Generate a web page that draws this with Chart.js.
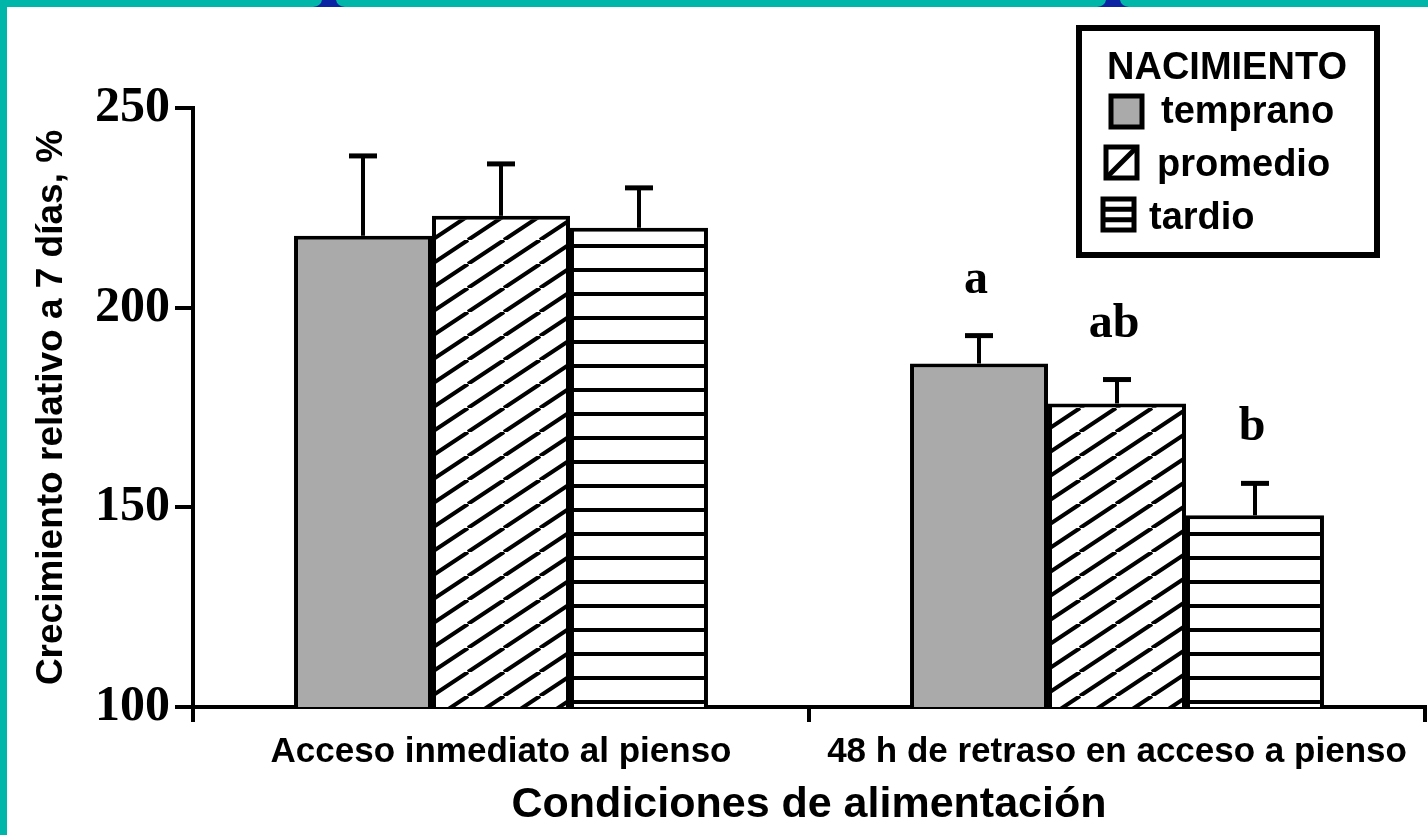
<!DOCTYPE html>
<html>
<head>
<meta charset="utf-8">
<script src="https://cdn.jsdelivr.net/npm/chart.js@4.4.1/dist/chart.umd.min.js"></script>
<style>
html, body { margin: 0; padding: 0; background: #fff; }
canvas { display: block; }
</style>
</head>
<body>
<canvas id="grafico" width="1428" height="835"></canvas>
<script>
// Datos
const condiciones = ['Acceso inmediato al pienso', '48 h de retraso en acceso a pienso'];
const nacimiento = ['temprano', 'promedio', 'tardio'];
const temprano = [218, 186];
const promedio = [223, 176];
const tardio = [220, 148];
const errTemprano = [20, 7];
const errPromedio = [13, 6];
const errTardio = [10, 8];
const letrasTemprano = ['', 'a'];
const letrasPromedio = ['', 'ab'];
const letrasTardio = ['', 'b'];
const ticksY = [100, 150, 200, 250];

const SANS = '"Liberation Sans", Arial, sans-serif';
const SERIF = '"Liberation Serif", "Times New Roman", serif';

// Tramas
function rayado() {
    const c = document.createElement('canvas');
    c.width = 36; c.height = 24;
    const g = c.getContext('2d');
    g.fillStyle = '#fff';
    g.fillRect(0, 0, 36, 24);
    g.strokeStyle = '#000';
    g.lineWidth = 4;
    g.beginPath();
    for (const k of [-1, 0, 1]) {
        g.moveTo(k * 36, 24);
        g.lineTo(k * 36 + 36, 0);
    }
    g.stroke();
    return g.createPattern(c, 'repeat');
}

function franjas() {
    const c = document.createElement('canvas');
    c.width = 8; c.height = 24;
    const g = c.getContext('2d');
    g.fillStyle = '#fff';
    g.fillRect(0, 0, 8, 24);
    g.fillStyle = '#000';
    g.fillRect(0, 4, 8, 4);
    return g.createPattern(c, 'repeat');
}

// Marco verde de la diapositiva
const marco = {
    id: 'marco',
    beforeDraw(chart) {
        const g = chart.ctx;
        g.save();
        g.fillStyle = '#fff';
        g.fillRect(0, 0, chart.width, chart.height);
        g.fillStyle = '#00b6a8';
        g.fillRect(0, 0, chart.width, 7);
        g.fillRect(0, 0, 7, chart.height);
        g.fillStyle = '#0b24a3';
        for (const x0 of [313, 1097]) {
            g.beginPath();
            g.moveTo(x0, 7);
            g.quadraticCurveTo(x0 + 8, 6, x0 + 9, 0);
            g.lineTo(x0 + 23, 0);
            g.quadraticCurveTo(x0 + 24, 6, x0 + 32, 7);
            g.closePath();
            g.fill();
        }
        g.restore();
    }
};

// Barras de error y letras
const barrasError = {
    id: 'barrasError',
    afterDatasetsDraw(chart) {
        const g = chart.ctx;
        const y = chart.scales.y;
        g.save();
        g.strokeStyle = '#000';
        g.fillStyle = '#000';
        chart.data.datasets.forEach((ds, i) => {
            chart.getDatasetMeta(i).data.forEach((bar, j) => {
                const yTop = y.getPixelForValue(ds.data[j] + ds.err[j]);
                g.lineWidth = 4;
                g.beginPath();
                g.moveTo(bar.x, bar.y);
                g.lineTo(bar.x, yTop);
                g.stroke();
                g.lineWidth = 5;
                g.beginPath();
                g.moveTo(bar.x - 14, yTop);
                g.lineTo(bar.x + 14, yTop);
                g.stroke();
                if (ds.letras[j]) {
                    g.font = 'bold 48px ' + SERIF;
                    g.textAlign = 'center';
                    g.textBaseline = 'alphabetic';
                    g.fillText(ds.letras[j], bar.x - 3, yTop - 43);
                }
            });
        });
        g.restore();
    }
};

// Leyenda con recuadro
const leyenda = {
    id: 'leyenda',
    afterDraw(chart) {
        const g = chart.ctx;
        g.save();
        g.strokeStyle = '#000';
        g.lineWidth = 6;
        g.strokeRect(1079, 28, 298, 227);
        g.fillStyle = '#000';
        g.font = 'bold 38px ' + SANS;
        g.textAlign = 'left';
        g.textBaseline = 'alphabetic';
        g.fillText('NACIMIENTO', 1107, 79);
        const filas = [
            { sx: 1111, sy: 96, tx: 1161, ty: 123 },
            { sx: 1106, sy: 147, tx: 1157, ty: 176 },
            { sx: 1103, sy: 199, tx: 1149, ty: 229 }
        ];
        chart.data.datasets.forEach((ds, i) => {
            const f = filas[i];
            const s = 31;
            g.lineWidth = 5;
            if (ds.muestra === 'solido') {
                g.fillStyle = ds.backgroundColor;
                g.fillRect(f.sx, f.sy, s, s);
            } else if (ds.muestra === 'diagonal') {
                g.beginPath();
                g.moveTo(f.sx, f.sy + s);
                g.lineTo(f.sx + s, f.sy);
                g.stroke();
            } else {
                g.beginPath();
                g.moveTo(f.sx, f.sy + s / 3);
                g.lineTo(f.sx + s, f.sy + s / 3);
                g.moveTo(f.sx, f.sy + 2 * s / 3);
                g.lineTo(f.sx + s, f.sy + 2 * s / 3);
                g.stroke();
            }
            g.strokeRect(f.sx, f.sy, s, s);
            g.fillStyle = '#000';
            g.font = 'bold 38px ' + SANS;
            g.fillText(ds.label, f.tx, f.ty);
        });
        g.restore();
    }
};

const ctx = document.getElementById('grafico').getContext('2d');
const grafico = new Chart(ctx, {
    type: 'bar',
    data: {
        labels: condiciones,
        datasets: [
            { label: nacimiento[0], data: temprano, err: errTemprano, letras: letrasTemprano,
              backgroundColor: '#aaaaaa', muestra: 'solido' },
            { label: nacimiento[1], data: promedio, err: errPromedio, letras: letrasPromedio,
              backgroundColor: rayado(), muestra: 'diagonal' },
            { label: nacimiento[2], data: tardio, err: errTardio, letras: letrasTardio,
              backgroundColor: franjas(), muestra: 'horizontal' }
        ]
    },
    options: {
        responsive: false,
        animation: false,
        layout: { padding: { left: 8, right: 3, top: 108, bottom: 0 } },
        datasets: {
            bar: { categoryPercentage: 0.672, barPercentage: 1, borderColor: '#000', borderWidth: 4 }
        },
        plugins: {
            legend: { display: false },
            tooltip: { enabled: false }
        },
        scales: {
            x: {
                grid: { offset: true, drawOnChartArea: false, tickLength: 15, lineWidth: 4, color: '#000' },
                border: { color: '#000', width: 4 },
                ticks: {
                    color: '#000', padding: 9, maxRotation: 0, autoSkip: false,
                    font: { family: SANS, weight: 'bold', size: 35 }
                },
                title: {
                    display: true, text: 'Condiciones de alimentación', color: '#000',
                    font: { family: SANS, weight: 'bold', size: 43 },
                    padding: { top: 0, bottom: 4 }
                },
                afterFit: a => { a.height = 128; }
            },
            y: {
                min: 100,
                max: 250,
                afterBuildTicks: a => { a.ticks = ticksY.map(v => ({ value: v })); },
                grid: { drawOnChartArea: false, tickLength: 18, lineWidth: 4, color: '#000' },
                border: { color: '#000', width: 4 },
                ticks: {
                    color: '#000', padding: 5,
                    font: { family: SERIF, weight: 'bold', size: 50 }
                },
                title: {
                    display: true, text: 'Crecimiento relativo a 7 días, %', color: '#000',
                    font: { family: SANS, weight: 'bold', size: 37 },
                    padding: { top: 22, bottom: 0 }
                },
                afterFit: a => { a.width = 185; }
            }
        }
    },
    plugins: [marco, barrasError, leyenda]
});
</script>
</body>
</html>
